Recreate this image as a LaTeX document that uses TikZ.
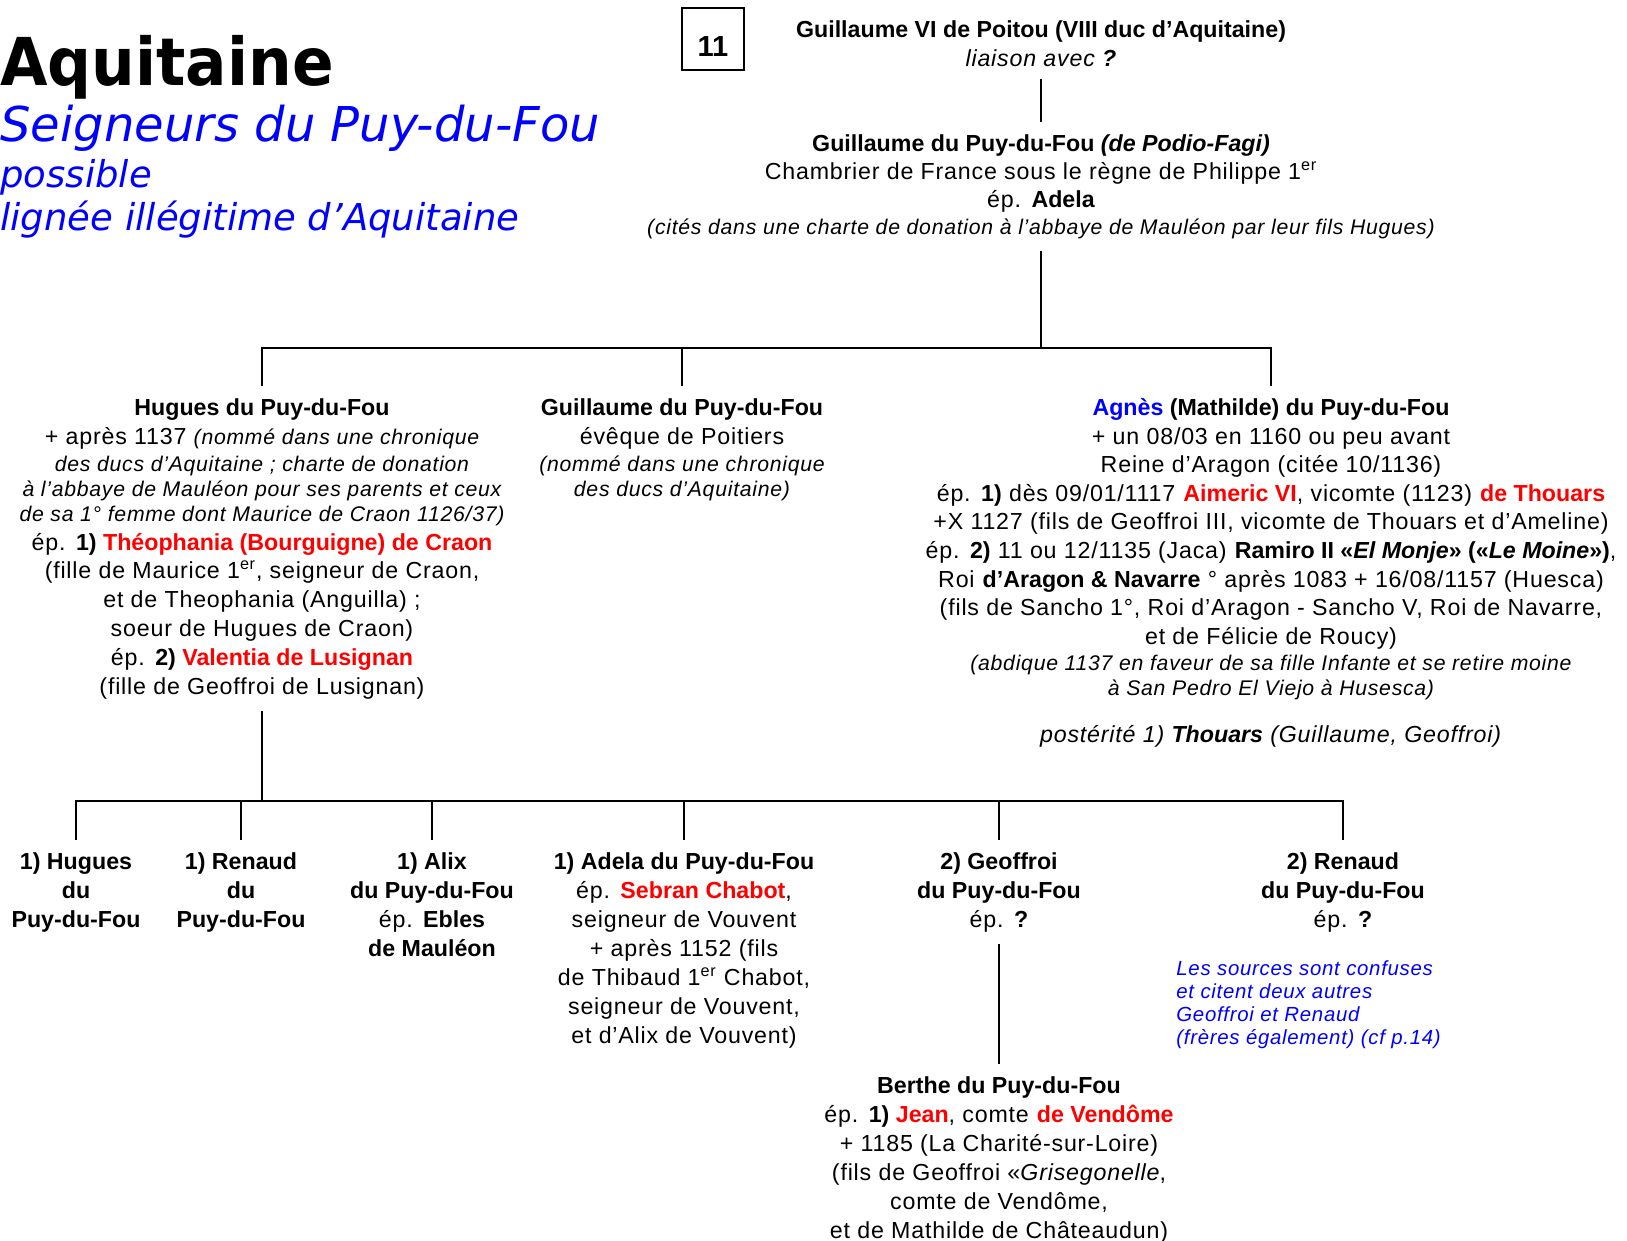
\documentclass[tikz,border=0pt]{standalone}
\usepackage{fontspec}
\setmainfont{Liberation Sans}[UprightFeatures={LetterSpace=3.5},ItalicFeatures={LetterSpace=3.5}]
\newfontfamily\titlefam{DejaVu Sans}[FakeStretch=0.93]
\newfontfamily\subfam{DejaVu Sans}[ItalicFont={* Oblique}]
\newcommand{\rd}[1]{\textcolor{red}{#1}}
\newcommand{\bl}[1]{\textcolor{blue}{#1}}
\newcommand{\smit}{\fontsize{10.6}{12}\selectfont\itshape}
\newcommand{\supER}{\textsuperscript{er}}
\begin{document}
\begin{tikzpicture}[x=0.5pt,y=-0.5pt,
    person/.style={align=center,anchor=north,inner xsep=0pt,inner ysep=6pt,
      font=\fontsize{11.6}{14.5}\selectfont},
    link/.style={line width=1.25pt}]
  \useasboundingbox (0,0) rectangle (1627,1241);

  % titre
  \node[anchor=base west,inner sep=0pt,font=\titlefam\bfseries\fontsize{33}{40}\selectfont] (titre) at (0,86) {Aquitaine};
  \node[anchor=base west,inner sep=0pt,font=\subfam\itshape\fontsize{24}{29}\selectfont,text=blue] (soustitre) at (0,142) {Seigneurs du Puy-du-Fou};
  \node[anchor=base west,inner sep=0pt,font=\subfam\itshape\fontsize{18.5}{22}\selectfont,text=blue] (possible) at (0,188) {possible};
  \node[anchor=base west,inner sep=0pt,font=\subfam\itshape\fontsize{18.5}{22}\selectfont,text=blue] (lignee) at (0,231) {lignée illégitime d’Aquitaine};
  \node[draw,line width=0.75pt,minimum width=31pt,minimum height=31pt,inner sep=0pt,
    text height=18pt,text depth=0pt,font=\bfseries\fontsize{14.5}{17}\selectfont] (planche) at (713,39) {11};

  % generation 1 et 2
  \node[person] (gvi) at (1041,8) {\textbf{Guillaume VI de Poitou (VIII duc d’Aquitaine)}\\
    \textit{liaison avec \textbf{?}}};
  \node[person] (gpf) at (1041,122) {\textbf{Guillaume du Puy-du-Fou \textit{(de Podio-Fagi)}}\\[-0.5pt]
    Chambrier de France sous le règne de Philippe 1\supER\\[-0.5pt]
    ép. \textbf{Adela}\\[-1pt]
    {\smit (cités dans une charte de donation à l’abbaye de Mauléon par leur fils Hugues)}};

  % generation 3
  \node[person] (hugues) at (262,386) {\textbf{Hugues du Puy-du-Fou}\\
    + après 1137 {\smit (nommé dans une chronique}\\[-1pt]
    {\smit des ducs d’Aquitaine ; charte de donation}\\[-2pt]
    {\smit à l’abbaye de Mauléon pour ses parents et ceux}\\[-2pt]
    {\smit de sa 1° femme dont Maurice de Craon 1126/37)}\\
    ép. \textbf{1) \rd{Théophania (Bourguigne) de Craon}}\\[-0.5pt]
    (fille de Maurice 1\supER, seigneur de Craon,\\
    et de Theophania (Anguilla) ;\\
    soeur de Hugues de Craon)\\
    ép. \textbf{2) \rd{Valentia de Lusignan}}\\
    (fille de Geoffroi de Lusignan)};
  \node[person] (guil) at (682,386) {\textbf{Guillaume du Puy-du-Fou}\\
    évêque de Poitiers\\[-1pt]
    {\smit (nommé dans une chronique}\\[-2pt]
    {\smit des ducs d’Aquitaine)}};
  \node[person] (agnes) at (1271,386) {\textbf{\bl{Agnès} (Mathilde) du Puy-du-Fou}\\[-0.2pt]
    + un 08/03 en 1160 ou peu avant\\[-0.2pt]
    Reine d’Aragon (citée 10/1136)\\[-0.2pt]
    ép. \textbf{1)} dès 09/01/1117 \textbf{\rd{Aimeric VI}}, vicomte (1123) \textbf{\rd{de Thouars}}\\[-0.2pt]
    +X 1127 (fils de Geoffroi III, vicomte de Thouars et d’Ameline)\\[-0.2pt]
    ép. \textbf{2)} 11 ou 12/1135 (Jaca) \textbf{Ramiro II «\textit{El Monje}» («\textit{Le Moine}»)},\\[-0.2pt]
    Roi \textbf{d’Aragon \& Navarre} ° après 1083 + 16/08/1157 (Huesca)\\[-0.2pt]
    (fils de Sancho 1°, Roi d’Aragon - Sancho V, Roi de Navarre,\\[-0.2pt]
    et de Félicie de Roucy)\\[-1.2pt]
    {\smit (abdique 1137 en faveur de sa fille Infante et se retire moine}\\[-2pt]
    {\smit à San Pedro El Viejo à Husesca)}\\[9pt]
    \textit{postérité 1) \textbf{Thouars} (Guillaume, Geoffroi)}};

  % generation 4
  \node[person] (c1) at (76,840) {\textbf{1) Hugues}\\\textbf{du}\\\textbf{Puy-du-Fou}};
  \node[person] (c2) at (241,840) {\textbf{1) Renaud}\\\textbf{du}\\\textbf{Puy-du-Fou}};
  \node[person] (c3) at (432,840) {\textbf{1) Alix}\\\textbf{du Puy-du-Fou}\\ép. \textbf{Ebles}\\\textbf{de Mauléon}};
  \node[person] (c4) at (684,840) {\textbf{1) Adela du Puy-du-Fou}\\
    ép. \textbf{\rd{Sebran Chabot}},\\
    seigneur de Vouvent\\
    + après 1152 (fils\\
    de Thibaud 1\supER{} Chabot,\\
    seigneur de Vouvent,\\
    et d’Alix de Vouvent)};
  \node[person] (c5) at (999,840) {\textbf{2) Geoffroi}\\\textbf{du Puy-du-Fou}\\ép. \textbf{?}};
  \node[person] (c6) at (1343,840) {\textbf{2) Renaud}\\\textbf{du Puy-du-Fou}\\ép. \textbf{?}};
  \node[anchor=north west,align=left,inner sep=0pt,text=blue,
    font=\fontsize{10.2}{11.5}\selectfont\itshape] (note) at (1176,960) {Les sources sont confuses\\
    et citent deux autres\\
    Geoffroi et Renaud\\
    (frères également) (cf p.14)};

  % generation 5
  \node[person] (berthe) at (999,1064) {\textbf{Berthe du Puy-du-Fou}\\
    ép. \textbf{1) \rd{Jean}}, comte \textbf{\rd{de Vendôme}}\\
    + 1185 (La Charité-sur-Loire)\\
    (fils de Geoffroi «\textit{Grisegonelle},\\
    comte de Vendôme,\\
    et de Mathilde de Châteaudun)};

  \coordinate (b1) at (1041,348);
  \coordinate (b2) at (262,801);
  \begin{scope}[link]
    \draw (gvi) -- (gpf);
    \draw (gpf) -- (b1);
    \draw (hugues.north) |- (b1) -| (agnes.north);
    \draw (guil.north) -- (guil.north |- b1);
    \draw (hugues) -- (b2);
    \draw (c1.north) |- (b2) -| (c6.north);
    \foreach \c in {c2,c3,c4,c5}
      \draw (\c.north) -- (\c.north |- b2);
    \draw (c5) -- (berthe);
  \end{scope}
\end{tikzpicture}
\end{document}
